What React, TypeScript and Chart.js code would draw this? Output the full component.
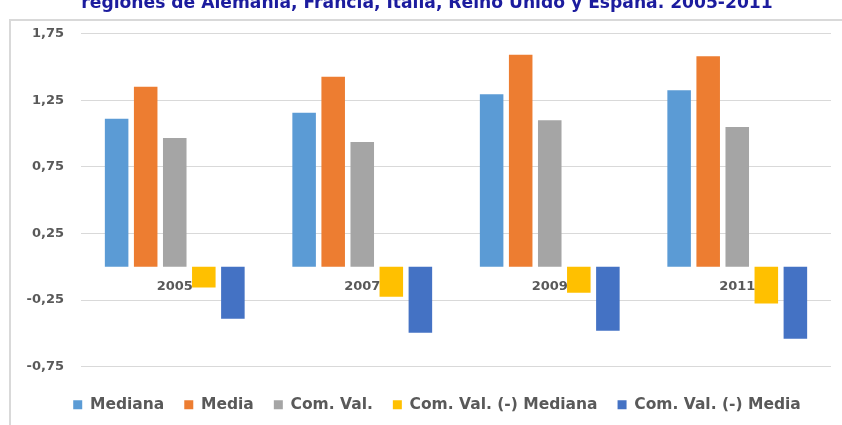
import React, { useEffect, useRef } from 'react';
import { Chart, registerables } from 'chart.js';

Chart.register(...registerables);

const TITLE = 'regiones de Alemania, Francia, Italia, Reino Unido y España. 2005-2011';
const categories = ['2005', '2007', '2009', '2011'];
const seriesNames = ['Mediana', 'Media', 'Com. Val.', 'Com. Val. (-) Mediana', 'Com. Val. (-) Media'];
const mediana = [1.11, 1.155, 1.295, 1.325];
const media = [1.35, 1.425, 1.59, 1.58];
const comVal = [0.965, 0.935, 1.1, 1.048];
const comValMenosMediana = [-0.155, -0.225, -0.195, -0.275];
const comValMenosMedia = [-0.39, -0.495, -0.48, -0.54];
const yTicks = [-0.75, -0.25, 0.25, 0.75, 1.25, 1.75];
const seriesColors = ['#5B9BD5', '#ED7D31', '#A5A5A5', '#FFC000', '#4472C4'];

const PLOT_LEFT = 81;
const LEGEND_SHIFT = 21.5;

const framePlugin = {
  id: 'frame',
  beforeDraw(chart: any) {
    const { ctx, width, height } = chart;
    ctx.save();
    ctx.fillStyle = '#FFFFFF';
    ctx.fillRect(0, 0, width, height);
    ctx.strokeStyle = '#D9D9D9';
    ctx.lineWidth = 2;
    ctx.beginPath();
    ctx.moveTo(10, height + 5);
    ctx.lineTo(10, 20);
    ctx.lineTo(width + 5, 20);
    ctx.stroke();
    // title (partially cut at the top)
    let size = 20;
    ctx.font = `bold ${size}px 'DejaVu Sans'`;
    const w = ctx.measureText(TITLE).width;
    size = size * 692 / w;
    ctx.font = `bold ${size}px 'DejaVu Sans'`;
    ctx.fillStyle = '#1C1C9E';
    ctx.textAlign = 'center';
    ctx.textBaseline = 'alphabetic';
    ctx.fillText(TITLE, 427, 7.5);
    ctx.restore();
  },
};

const legendShiftPlugin = {
  id: 'legendShift',
  afterLayout(chart: any) {
    if (chart.legend) {
      chart.legend.left += LEGEND_SHIFT;
      chart.legend.right += LEGEND_SHIFT;
    }
  },
};

const categoryLabelPlugin = {
  id: 'categoryLabels',
  afterDatasetsDraw(chart: any) {
    const { ctx } = chart;
    const xs = chart.scales.x;
    const ys = chart.scales.y;
    const y0 = ys.getPixelForValue(0);
    ctx.save();
    ctx.font = "bold 13px 'DejaVu Sans'";
    ctx.fillStyle = '#595959';
    ctx.textAlign = 'center';
    ctx.textBaseline = 'middle';
    categories.forEach((c, i) => {
      ctx.fillText(c, xs.getPixelForValue(i), y0 + 20);
    });
    ctx.restore();
  },
};

export default function App() {
  const ref = useRef<HTMLCanvasElement | null>(null);
  useEffect(() => {
    if (!ref.current) return;
    const values = [mediana, media, comVal, comValMenosMediana, comValMenosMedia];
    const chart = new Chart(ref.current, {
      type: 'bar',
      data: {
        labels: categories,
        datasets: seriesNames.map((name, i) => ({
          label: name,
          data: values[i],
          backgroundColor: seriesColors[i],
          borderWidth: 0,
          barPercentage: 0.81,
          categoryPercentage: 0.775,
        })),
      },
      options: {
        responsive: false,
        animation: false,
        layout: { padding: { top: 33.5, left: 0, right: 11, bottom: 2.5 } },
        plugins: {
          title: { display: false },
          tooltip: { enabled: false },
          legend: {
            position: 'bottom',
            labels: {
              boxWidth: 9,
              boxHeight: 9,
              padding: 20,
              color: '#595959',
              font: { family: 'DejaVu Sans', size: 15.5, weight: 'bold' },
            },
          },
        },
        scales: {
          x: {
            display: true,
            grid: { display: false },
            border: { display: false },
            ticks: { display: false },
            afterFit: (s: any) => { s.height = 10.3; },
          },
          y: {
            min: -0.75,
            max: 1.75,
            afterBuildTicks: (s: any) => { s.ticks = yTicks.map((v) => ({ value: v })); },
            afterFit: (s: any) => { s.width = PLOT_LEFT; },
            grid: { color: '#D9D9D9', lineWidth: 1, drawTicks: false },
            border: { display: false },
            ticks: {
              padding: 17,
              color: '#595959',
              font: { family: 'DejaVu Sans', size: 13, weight: 'bold' },
              callback: (v: any) => Number(v).toFixed(2).replace('.', ','),
            },
          },
        },
      },
      plugins: [framePlugin, legendShiftPlugin, categoryLabelPlugin],
    });
    return () => chart.destroy();
  }, []);
  return (
    <div style={{ position: 'fixed', left: 0, top: 0, width: 842, height: 425 }}>
      <canvas ref={ref} width={842} height={425} />
    </div>
  );
}
